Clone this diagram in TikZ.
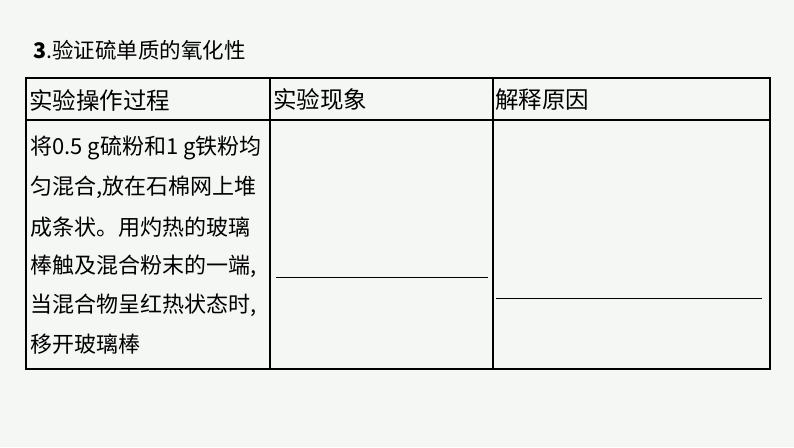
\documentclass[tikz,border=0pt]{standalone}
\usepackage{fontspec}
\newfontfamily\cjk{Noto Sans CJK SC}
\definecolor{bg}{HTML}{F4F7F4}
\begin{document}
\begin{tikzpicture}[x=1pt,y=-1pt,
  cell/.style={anchor=west,font=\cjk\fontsize{23.5}{23.5}\selectfont,inner sep=0},
  ttl/.style={anchor=west,font=\cjk\fontsize{21.5}{21.5}\selectfont,inner sep=0},
  body/.style={anchor=west,font=\cjk\fontsize{22}{22}\selectfont,inner sep=0},
  grid/.style={line width=1.3pt,black}]
\fill[bg] (0,0) rectangle (794,447);
\useasboundingbox (0,0) rectangle (794,447);
\node[ttl] (title) at (33,50) {\textbf{3}.验证硫单质的氧化性};
\draw[grid] (26,78) rectangle (770,369);
\draw[grid] (26,120) -- (770,120);
\draw[grid] (270,78) -- (270,369);
\draw[grid] (493,78) -- (493,369);
\node[cell] (h1) at (29,100) {实验操作过程};
\node[cell] (h2) at (273,100) {实验现象};
\node[cell] (h3) at (495,100) {解释原因};
\node[body] (b1) at (30,148) {将0.5 g硫粉和1 g铁粉均};
\node[body] (b2) at (30,187) {匀混合,放在石棉网上堆};
\node[body] (b3) at (30,227) {成条状。用灼热的玻璃};
\node[body] (b4) at (30,266) {棒触及混合粉末的一端,};
\node[body] (b5) at (30,305) {当混合物呈红热状态时,};
\node[body] (b6) at (30,344) {移开玻璃棒};
\coordinate (l1a) at (276,277); \coordinate (l1b) at (488,277);
\coordinate (l2a) at (496,298); \coordinate (l2b) at (762,298);
\draw[line width=0.8pt] (l1a) -- (l1b);
\draw[line width=0.8pt] (l2a) -- (l2b);
\end{tikzpicture}
\end{document}
